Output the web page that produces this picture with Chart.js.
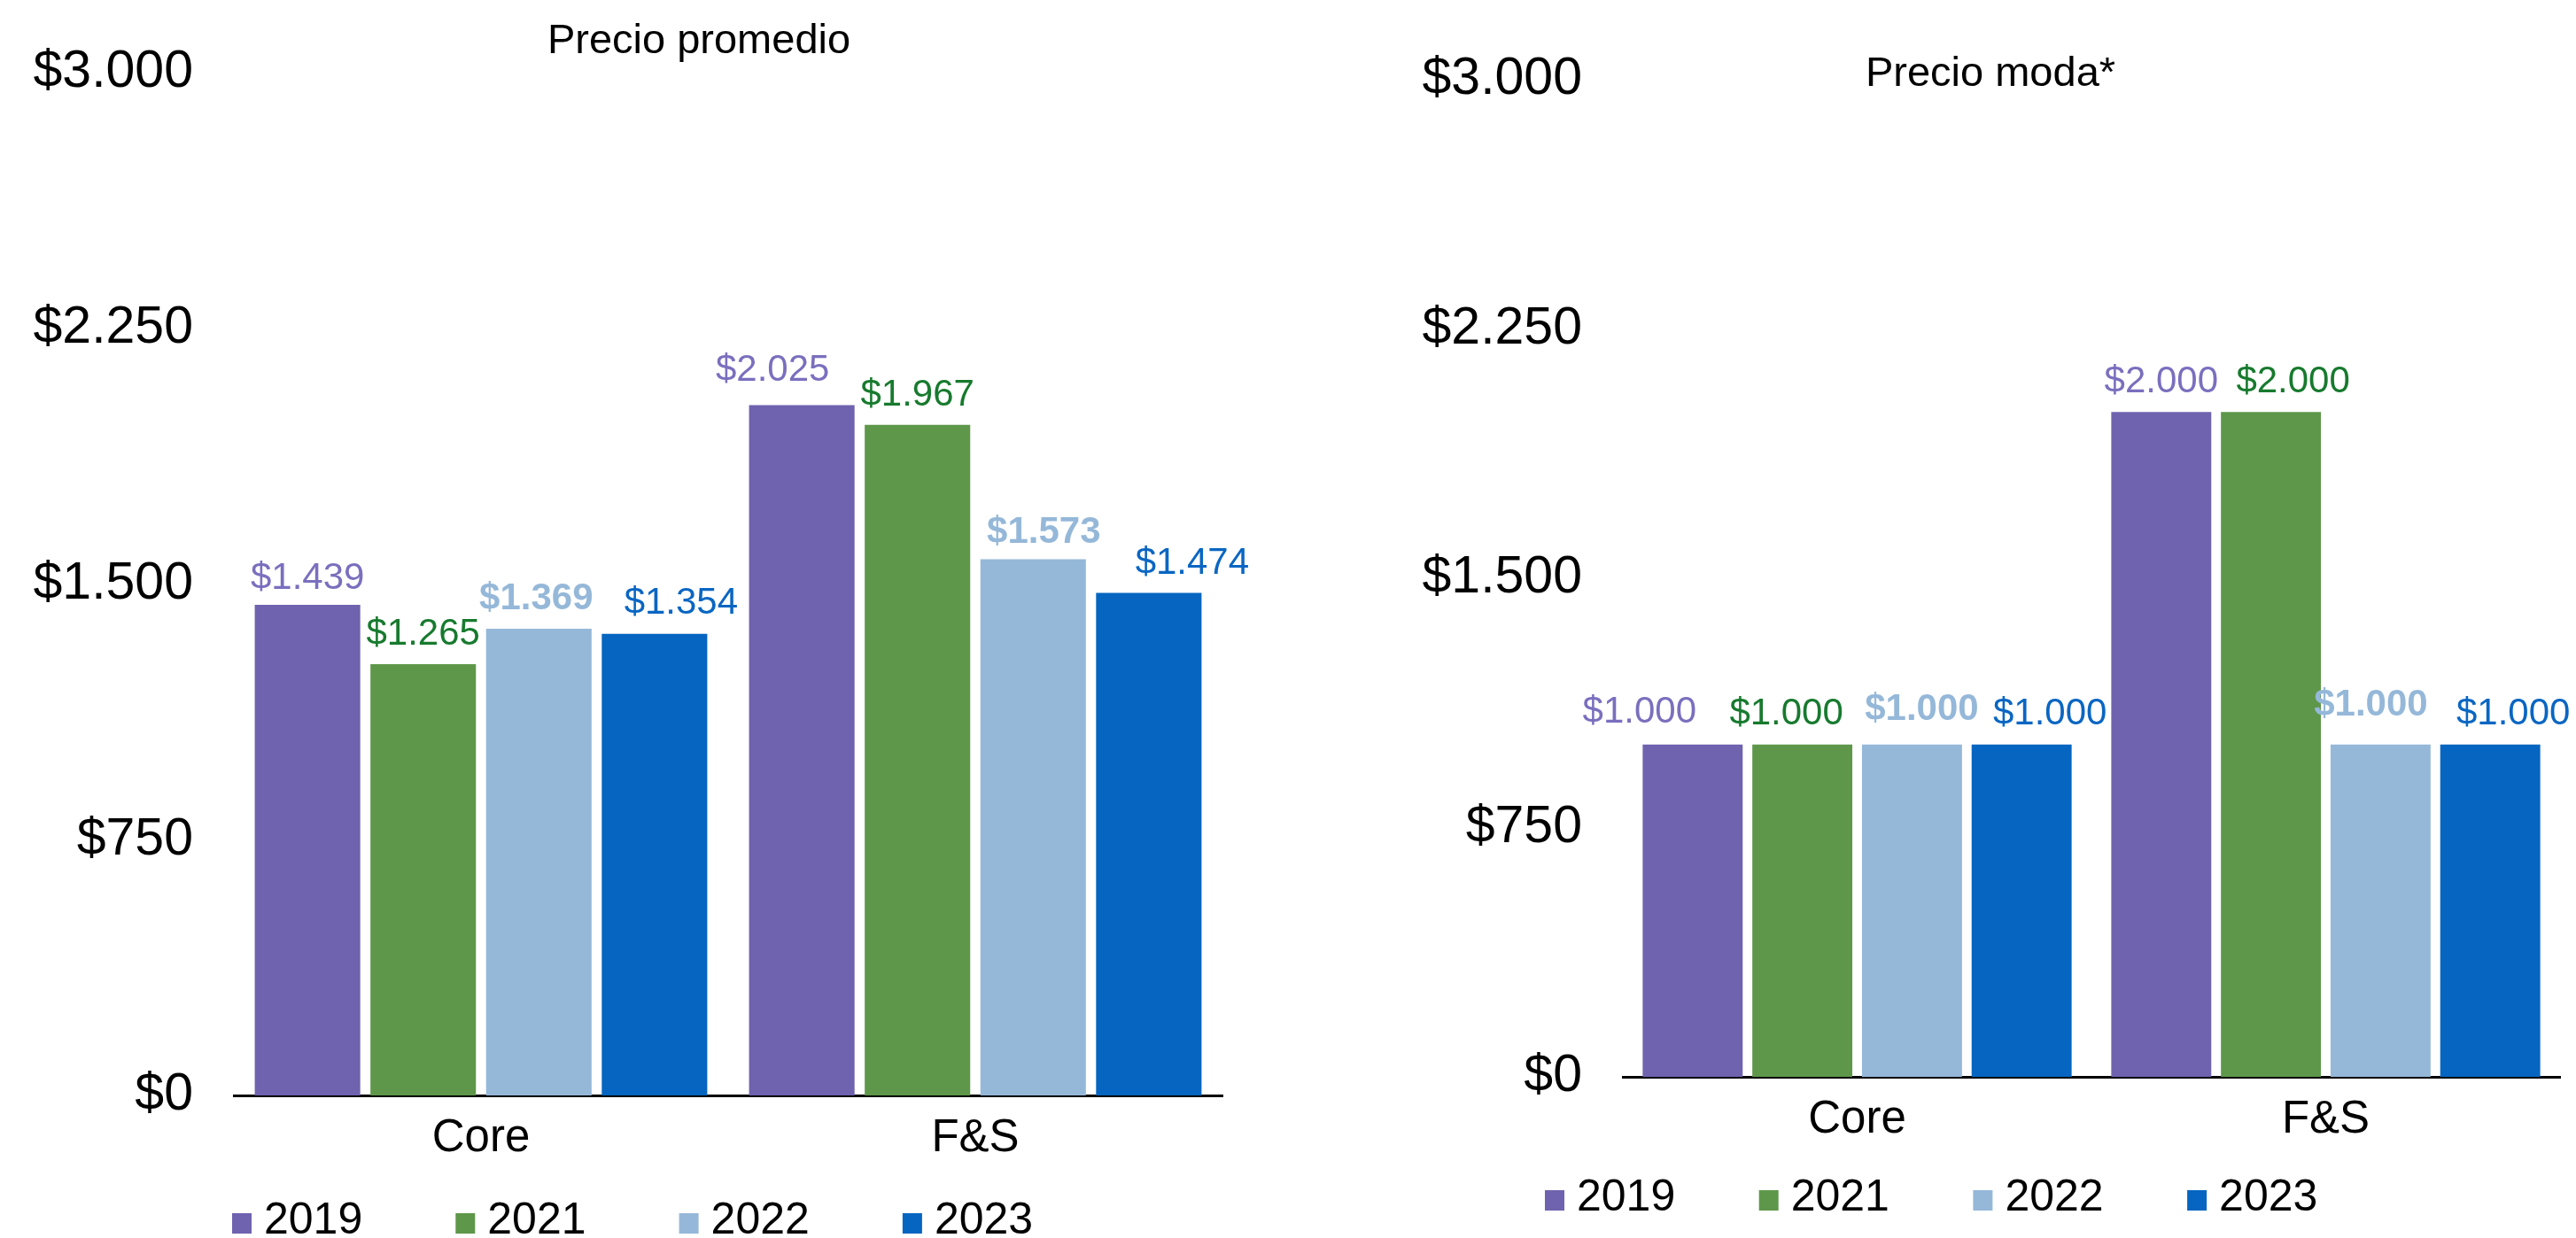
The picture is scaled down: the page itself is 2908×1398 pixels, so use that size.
<!DOCTYPE html>
<html lang="es">
<head>
<meta charset="utf-8">
<title>Precio promedio y precio moda</title>
<script src="https://cdn.jsdelivr.net/npm/chart.js@4.4.1/dist/chart.umd.min.js"></script>
<style>
  html, body { margin: 0; padding: 0; background: #fff; }
  body { width: 2908px; height: 1398px; position: relative; overflow: hidden; }
  .panel { position: absolute; top: 0; width: 1454px; height: 1398px; }
  #panel-promedio { left: 0; }
  #panel-moda { left: 1454px; }
</style>
</head>
<body>
<div class="panel" id="panel-promedio"><canvas id="chart-promedio" width="1454" height="1398"></canvas></div>
<div class="panel" id="panel-moda"><canvas id="chart-moda" width="1454" height="1398"></canvas></div>
<script>
// datos
const CATEGORIES = ['Core', 'F&S'];
const YEARS = ['2019', '2021', '2022', '2023'];

const PROMEDIO_2019 = [1439, 2025];
const PROMEDIO_2021 = [1265, 1967];
const PROMEDIO_2022 = [1369, 1573];
const PROMEDIO_2023 = [1354, 1474];

const MODA_2019 = [1000, 2000];
const MODA_2021 = [1000, 2000];
const MODA_2022 = [1000, 1000];
const MODA_2023 = [1000, 1000];

const Y_TICKS = [0, 750, 1500, 2250, 3000];

const TITLE_PROMEDIO = 'Precio promedio';
const TITLE_MODA = 'Precio moda*';

// estilos
const BAR_COLORS = ['#6F62AE', '#5E974A', '#95B8D9', '#0565C0'];
const LABEL_COLORS = ['#7A6FBE', '#177A2E', '#95B8D9', '#0A66C2'];
const LABEL_BOLD = [false, false, true, false];
const FONT_FAMILY = '"Liberation Sans", Arial, Helvetica, sans-serif';

function formatPeso(v) {
    return '$' + String(v).replace(/\B(?=(\d{3})+(?!\d))/g, '.');
}

// etiquetas de valor sobre cada barra (con pequeños desplazamientos como en el original)
const barValueLabels = {
    id: 'barValueLabels',
    afterDatasetsDraw(chart, args, opts) {
        const ctx = chart.ctx;
        ctx.save();
        ctx.textAlign = 'center';
        ctx.textBaseline = 'alphabetic';
        chart.data.datasets.forEach((ds, i) => {
            const meta = chart.getDatasetMeta(i);
            ctx.fillStyle = LABEL_COLORS[i];
            ctx.font = (LABEL_BOLD[i] ? 'bold ' : '') + opts.size + 'px ' + FONT_FAMILY;
            meta.data.forEach((bar, j) => {
                const dx = opts.dx[i][j];
                const gap = opts.gap[i][j];
                ctx.fillText(formatPeso(ds.data[j]), bar.x + dx, bar.y - gap);
            });
        });
        ctx.restore();
    }
};

// título libre (no centrado sobre el área)
const panelTitle = {
    id: 'panelTitle',
    afterDraw(chart, args, opts) {
        const ctx = chart.ctx;
        ctx.save();
        ctx.font = opts.size + 'px ' + FONT_FAMILY;
        ctx.fillStyle = '#000';
        ctx.textAlign = 'center';
        ctx.textBaseline = 'alphabetic';
        ctx.fillText(opts.text, opts.x, opts.y);
        ctx.restore();
    }
};

// leyenda de cuadrados al pie
const squareLegend = {
    id: 'squareLegend',
    afterDraw(chart, args, opts) {
        const ctx = chart.ctx;
        ctx.save();
        ctx.font = opts.size + 'px ' + FONT_FAMILY;
        ctx.textAlign = 'left';
        ctx.textBaseline = 'alphabetic';
        chart.data.datasets.forEach((ds, i) => {
            const x = opts.x + i * opts.spacing;
            ctx.fillStyle = ds.backgroundColor;
            ctx.fillRect(x, opts.baseline - opts.boxHeight, opts.boxWidth, opts.boxHeight);
            ctx.fillStyle = '#000';
            ctx.fillText(ds.label, x + opts.boxWidth + opts.gap, opts.baseline);
        });
        ctx.restore();
    }
};

function buildChart(canvasId, title, series, lay) {
    const ctx = document.getElementById(canvasId).getContext('2d');
    return new Chart(ctx, {
        type: 'bar',
        data: {
            labels: CATEGORIES,
            datasets: series.map((values, i) => ({
                label: YEARS[i],
                data: values,
                backgroundColor: BAR_COLORS[i],
                borderWidth: 0,
                categoryPercentage: 0.936,
                barPercentage: 0.912
            }))
        },
        plugins: [barValueLabels, panelTitle, squareLegend],
        options: {
            responsive: false,
            animation: false,
            events: [],
            layout: { padding: { top: lay.top, right: lay.right, left: 0, bottom: 0 } },
            scales: {
                x: {
                    grid: { display: false, drawTicks: false },
                    border: { display: true, color: '#000', width: 3 },
                    ticks: { color: '#000', padding: 18, font: { family: FONT_FAMILY, size: 51 } },
                    afterFit: s => { s.height = lay.xHeight; }
                },
                y: {
                    min: 0,
                    max: 3000,
                    grid: { display: false, drawTicks: false },
                    border: { display: false },
                    afterBuildTicks: s => { s.ticks = Y_TICKS.map(v => ({ value: v })); },
                    ticks: {
                        color: '#000',
                        padding: 46,
                        font: { family: FONT_FAMILY, size: 59 },
                        callback: v => formatPeso(v)
                    },
                    afterFit: s => { s.width = lay.yWidth; }
                }
            },
            plugins: {
                legend: { display: false },
                tooltip: { enabled: false },
                title: { display: false },
                barValueLabels: { size: 42, dx: lay.labelDx, gap: lay.labelGap },
                panelTitle: { text: title, size: 47, x: lay.titleX, y: lay.titleY },
                squareLegend: {
                    size: 50, x: lay.legendX, spacing: lay.legendSpacing, baseline: lay.legendBaseline,
                    boxWidth: 22, boxHeight: 23, gap: 14
                }
            }
        }
    });
}

buildChart('chart-promedio', TITLE_PROMEDIO,
    [PROMEDIO_2019, PROMEDIO_2021, PROMEDIO_2022, PROMEDIO_2023],
    { top: 82, right: 74, yWidth: 264, xHeight: 161, titleX: 789, titleY: 60,
      legendX: 262, legendSpacing: 252.3, legendBaseline: 1393,
      labelDx: [[0, -33], [0, 0], [-3, 12], [30, 49]],
      labelGap: [[18, 27], [22, 22], [22, 18], [23, 22]] });

buildChart('chart-moda', TITLE_MODA,
    [MODA_2019, MODA_2021, MODA_2022, MODA_2023],
    { top: 90, right: 18, yWidth: 378, xHeight: 182, titleX: 793, titleY: 97,
      legendX: 290, legendSpacing: 241.7, legendBaseline: 1367,
      labelDx: [[-60, 0], [-18, 25], [11, -11], [32, 26]],
      labelGap: [[25, 22], [23, 22], [28, 33], [23, 23]] });
</script>
</body>
</html>
